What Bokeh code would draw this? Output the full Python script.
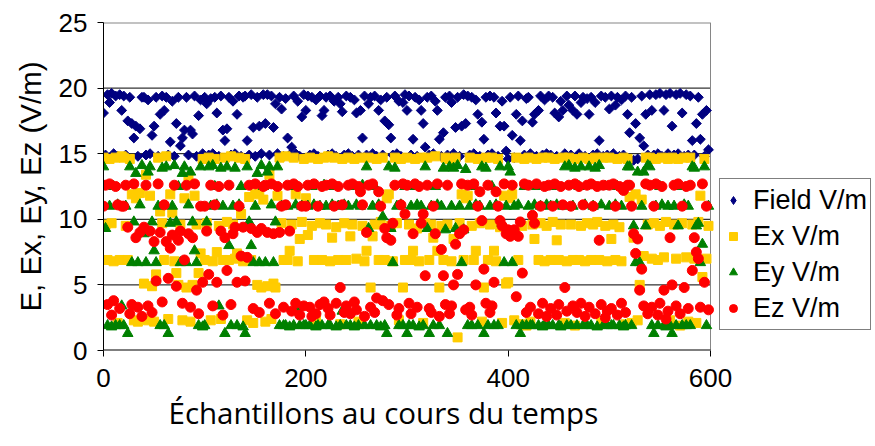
import math
from bokeh.plotting import figure
from bokeh.models import Range1d, Legend, LegendItem, FixedTicker, Title
from bokeh.embed import file_html
from bokeh.resources import INLINE

# Field strength and its three components, one reading every 2 samples (V/m)
field = [
    18.1, 14.9, 19.5, 18.9, 19.6, 15.0, 19.4, 14.8, 19.5, 18.3,
    19.4, 14.9, 17.5, 19.3, 17.3, 16.2, 17.1, 14.8, 16.9, 19.3,
    19.3, 14.9, 19.1, 15.0, 16.4, 17.1, 19.3, 14.8, 18.0, 19.4,
    18.3, 19.3, 14.9, 15.9, 19.0, 14.8, 17.3, 19.3, 15.6, 16.2,
    16.8, 19.3, 14.9, 16.8, 16.5, 19.4, 14.8, 17.9, 19.1, 15.0,
    19.3, 18.8, 14.9, 19.2, 15.0, 19.3, 18.1, 14.8, 19.4, 16.8,
    16.0, 16.9, 19.3, 14.9, 19.0, 15.0, 18.0, 19.4, 14.8, 19.3,
    19.4, 16.0, 14.9, 19.5, 17.0, 14.8, 19.3, 17.1, 15.0, 19.5,
    17.3, 19.5, 14.9, 19.4, 17.0, 18.8, 15.0, 19.3, 18.4, 14.8,
    19.2, 16.2, 14.9, 15.5, 19.4, 15.0, 19.0, 14.8, 17.8, 19.5,
    18.3, 19.4, 14.9, 19.3, 15.0, 19.1, 14.8, 19.4, 17.9, 18.3,
    19.3, 14.9, 19.4, 15.0, 19.0, 14.8, 19.3, 18.8, 18.2, 14.9,
    19.4, 15.0, 19.3, 14.8, 19.1, 18.1, 14.9, 18.3, 16.2, 19.4,
    14.9, 18.8, 19.3, 15.0, 19.4, 14.8, 18.3, 19.1, 14.9, 17.5,
    19.3, 17.2, 16.2, 14.9, 19.4, 15.0, 19.0, 14.8, 18.9, 19.5,
    18.3, 19.4, 14.9, 16.1, 19.3, 14.8, 19.1, 18.3, 17.3, 15.5,
    19.3, 14.9, 19.4, 15.0, 19.0, 18.3, 16.1, 14.8, 16.6, 19.3,
    14.9, 19.4, 18.9, 15.0, 17.0, 19.3, 14.8, 17.1, 19.5, 17.3,
    19.4, 14.9, 19.3, 15.0, 19.1, 18.0, 14.8, 17.4, 16.1, 19.3,
    14.9, 19.4, 15.0, 19.3, 18.1, 14.8, 17.1, 19.0, 17.1, 15.2,
    14.6, 19.3, 16.4, 14.7, 18.0, 19.4, 16.0, 17.5, 14.9, 19.2,
    19.3, 15.0, 17.4, 18.0, 14.8, 18.3, 19.4, 14.9, 19.1, 15.0,
    19.4, 14.9, 19.3, 18.1, 14.8, 17.8, 19.0, 18.3, 15.0, 19.4,
    18.7, 14.9, 18.3, 19.4, 18.0, 15.0, 18.9, 19.3, 14.8, 19.2,
    18.0, 19.3, 14.9, 18.9, 15.0, 16.0, 19.4, 14.8, 19.3, 14.9,
    18.4, 19.4, 15.0, 18.7, 19.3, 14.8, 19.1, 14.9, 19.4, 18.0,
    16.6, 19.3, 14.5, 17.3, 14.6, 16.2, 19.4, 15.6, 18.0, 14.9,
    19.5, 18.3, 14.9, 19.5, 15.0, 19.6, 14.8, 18.3, 19.5, 15.0,
    19.6, 17.1, 14.9, 19.5, 15.0, 19.6, 18.1, 14.8, 19.5, 14.9,
    19.4, 16.0, 14.9, 17.3, 19.3, 16.1, 18.0, 14.8, 18.3, 15.3,
]

ex = [
    14.7, 9.6, 6.9, 14.6, 9.7, 6.8, 14.7, 2.1, 6.9, 14.8,
    14.7, 9.5, 6.9, 14.6, 11.9, 2.3, 11.6, 2.2, 12.0, 2.4,
    5.1, 13.4, 2.3, 11.8, 4.9, 2.2, 5.8, 14.7, 10.6, 9.7,
    6.9, 14.8, 2.4, 11.9, 10.5, 6.8, 5.9, 5.0, 9.6, 2.3,
    11.6, 4.8, 13.2, 2.2, 5.0, 11.8, 9.6, 5.9, 7.4, 14.6,
    6.9, 9.7, 14.7, 2.3, 6.8, 14.6, 7.5, 9.5, 2.4, 6.9,
    14.7, 9.8, 6.9, 14.8, 9.6, 7.0, 7.4, 14.7, 10.4, 6.8,
    14.6, 2.3, 11.7, 6.9, 2.1, 11.9, 5.0, 12.0, 4.8, 11.5,
    2.2, 4.9, 13.4, 2.4, 5.1, 4.8, 11.8, 14.7, 9.7, 6.9,
    14.8, 6.9, 7.6, 9.6, 14.7, 11.9, 6.8, 8.5, 9.8, 14.6,
    11.6, 8.8, 14.7, 9.5, 6.9, 2.3, 14.6, 9.7, 6.9, 14.7,
    9.6, 14.8, 6.8, 8.6, 14.7, 9.4, 6.9, 2.0, 14.6, 9.7,
    6.9, 14.7, 8.7, 9.6, 14.6, 7.0, 2.2, 14.7, 9.5, 6.8,
    7.6, 14.7, 4.8, 8.7, 9.6, 14.6, 6.9, 9.8, 14.7, 6.9,
    11.6, 11.9, 9.5, 6.8, 14.7, 9.7, 2.3, 14.6, 4.8, 6.9,
    14.7, 9.6, 6.9, 7.6, 14.6, 9.3, 6.8, 14.7, 2.1, 9.7,
    14.7, 6.9, 9.6, 8.6, 14.8, 7.6, 4.8, 9.5, 6.9, 14.7,
    9.6, 14.6, 6.8, 8.5, 14.7, 1.0, 9.7, 11.9, 6.9, 11.6,
    11.8, 14.7, 9.5, 6.9, 7.6, 14.6, 9.7, 2.2, 4.8, 14.7,
    6.9, 9.6, 14.7, 7.6, 6.8, 14.6, 9.4, 2.1, 11.8, 5.1,
    5.2, 11.6, 11.9, 2.3, 14.7, 6.9, 2.0, 9.5, 14.6, 1.9,
    14.7, 2.2, 9.6, 8.5, 14.6, 6.9, 9.7, 14.7, 6.8, 9.5,
    14.7, 6.9, 9.8, 14.6, 8.4, 6.9, 9.6, 14.7, 2.1, 6.8,
    14.7, 9.6, 6.9, 1.9, 14.6, 6.9, 9.5, 14.7, 6.8, 9.7,
    14.6, 6.9, 9.6, 14.7, 9.8, 6.9, 2.2, 14.7, 9.5, 6.8,
    14.7, 8.5, 9.6, 6.9, 14.6, 9.4, 6.8, 14.7, 2.0, 14.6,
    11.7, 2.1, 8.6, 11.9, 2.3, 5.0, 11.5, 7.2, 14.7, 9.6,
    14.7, 7.0, 9.7, 14.6, 6.9, 9.5, 14.7, 7.1, 9.8, 14.6,
    2.3, 14.7, 9.6, 7.0, 14.6, 1.9, 9.7, 14.7, 7.1, 2.2,
    14.7, 9.6, 7.0, 2.1, 9.8, 11.8, 5.6, 14.6, 7.0, 9.5,
]

ey = [
    14.0, 9.3, 1.9, 11.0, 1.8, 12.5, 1.9, 11.1, 1.9, 3.4,
    1.9, 11.0, 1.3, 14.0, 6.7, 9.8, 13.5, 6.7, 11.1, 14.1,
    8.9, 6.7, 13.6, 14.0, 9.8, 7.6, 6.7, 11.0, 1.9, 13.9,
    1.9, 14.0, 1.3, 9.7, 11.0, 14.1, 9.8, 12.5, 6.7, 13.5,
    14.0, 6.7, 11.1, 13.6, 9.8, 7.6, 6.7, 1.9, 14.0, 1.8,
    1.9, 9.8, 14.0, 11.0, 14.1, 12.5, 11.1, 3.4, 13.9, 11.0,
    1.3, 14.0, 8.0, 1.9, 11.0, 13.9, 1.9, 11.1, 12.5, 1.8,
    1.3, 14.0, 9.8, 8.0, 6.7, 11.0, 13.5, 6.7, 14.1, 12.5,
    6.7, 13.6, 14.0, 11.1, 6.7, 9.8, 14.0, 1.9, 11.0, 1.9,
    1.9, 11.0, 1.8, 12.5, 1.9, 11.1, 3.3, 1.9, 11.0, 1.9,
    1.9, 11.0, 1.9, 12.5, 11.1, 1.8, 1.9, 11.0, 1.9, 12.6,
    11.0, 1.9, 1.9, 11.1, 12.5, 1.8, 11.0, 1.9, 3.0, 11.1,
    1.9, 11.0, 1.9, 12.5, 1.8, 11.1, 1.9, 11.0, 12.6, 1.9,
    14.0, 9.3, 1.9, 11.0, 12.5, 1.9, 11.1, 1.8, 10.2, 1.9,
    1.3, 14.0, 9.3, 6.7, 13.9, 11.0, 1.9, 11.1, 1.9, 12.5,
    1.3, 1.9, 11.0, 1.9, 12.5, 11.1, 1.8, 11.0, 1.9, 14.0,
    9.3, 1.3, 11.0, 1.9, 12.5, 11.1, 1.9, 11.0, 13.9, 9.2,
    1.3, 14.0, 11.0, 13.9, 9.3, 14.1, 11.0, 6.7, 9.2, 13.8,
    1.9, 11.0, 1.9, 12.5, 11.1, 1.9, 11.0, 14.0, 1.3, 13.9,
    1.9, 11.0, 12.5, 1.9, 11.1, 1.9, 14.0, 9.7, 6.7, 11.0,
    14.0, 13.6, 6.7, 11.0, 1.9, 11.1, 1.3, 1.9, 12.5, 1.9,
    11.0, 1.9, 1.9, 11.1, 12.5, 1.9, 11.0, 1.8, 1.9, 11.1,
    1.9, 11.0, 1.9, 12.5, 11.1, 1.9, 1.8, 11.0, 14.0, 1.9,
    14.1, 1.9, 11.0, 13.9, 1.9, 12.5, 14.0, 1.9, 11.1, 1.9,
    14.0, 1.9, 11.0, 13.9, 1.8, 14.1, 11.1, 1.9, 12.5, 1.9,
    11.0, 1.9, 1.9, 11.1, 12.5, 1.9, 11.0, 1.8, 1.9, 14.0,
    14.0, 1.9, 9.5, 6.7, 13.6, 6.7, 11.0, 13.6, 9.5, 14.1,
    14.0, 1.9, 1.3, 11.0, 1.9, 12.5, 11.1, 1.9, 1.8, 11.0,
    1.9, 1.3, 11.0, 1.9, 9.5, 12.5, 1.9, 11.1, 1.9, 11.0,
    1.9, 14.0, 13.9, 9.5, 9.7, 6.7, 8.1, 14.0, 1.9, 11.0,
]

ez = [
    11.0, 12.6, 3.5, 12.7, 2.7, 3.8, 12.5, 11.1, 3.2, 11.0,
    11.0, 12.6, 9.4, 2.8, 3.5, 12.7, 8.6, 3.3, 9.0, 2.6,
    9.4, 12.6, 3.4, 9.1, 2.9, 8.3, 5.3, 12.7, 9.0, 3.7,
    11.1, 8.3, 5.5, 7.8, 8.8, 12.6, 4.9, 8.4, 9.1, 3.6,
    6.9, 12.6, 8.9, 3.3, 8.6, 12.7, 4.6, 2.8, 11.0, 5.2,
    11.0, 9.1, 5.8, 12.6, 3.4, 11.1, 5.2, 12.5, 9.1, 2.7,
    8.6, 6.1, 12.6, 3.5, 8.9, 9.4, 5.2, 11.0, 7.2, 9.4,
    5.3, 7.1, 12.6, 9.3, 3.2, 12.7, 9.0, 2.9, 9.3, 12.5,
    12.6, 9.0, 3.6, 12.7, 8.9, 2.8, 12.5, 9.0, 11.0, 3.3,
    11.1, 12.6, 9.1, 3.0, 12.7, 3.6, 12.5, 2.7, 11.0, 3.4,
    11.0, 12.6, 3.3, 2.6, 12.7, 2.8, 11.0, 3.5, 12.5, 3.7,
    12.6, 3.2, 2.7, 12.7, 11.0, 3.6, 12.5, 4.8, 11.1, 2.9,
    3.4, 12.6, 2.8, 12.7, 3.7, 3.1, 12.5, 12.1, 11.1, 2.6,
    9.0, 12.6, 3.3, 12.7, 2.9, 4.0, 12.1, 11.0, 3.8, 9.3,
    8.6, 3.5, 8.4, 9.7, 12.6, 2.7, 3.2, 11.1, 12.7, 10.4,
    12.6, 3.6, 2.8, 8.9, 12.7, 3.3, 12.5, 9.7, 10.4, 5.7,
    12.6, 3.2, 2.9, 11.0, 8.9, 12.7, 2.6, 7.7, 5.7, 3.5,
    12.6, 2.8, 3.4, 5.0, 8.1, 5.8, 8.9, 12.7, 9.2, 3.1,
    12.6, 3.3, 2.7, 12.7, 5.0, 11.0, 12.1, 9.9, 6.2, 3.6,
    12.6, 2.9, 3.4, 5.2, 12.1, 11.0, 9.9, 9.5, 12.7, 8.9,
    9.2, 8.7, 12.6, 9.2, 4.1, 8.7, 9.8, 5.9, 12.7, 2.9,
    12.6, 3.3, 10.3, 9.7, 12.7, 2.8, 11.0, 3.6, 12.5, 2.6,
    12.6, 3.2, 11.0, 12.7, 2.7, 3.5, 12.5, 11.1, 4.8, 3.0,
    12.6, 11.0, 3.4, 12.7, 2.9, 12.5, 3.6, 11.1, 2.6, 12.6,
    3.3, 12.7, 11.0, 2.8, 12.5, 8.4, 3.5, 12.6, 2.5, 3.0,
    12.6, 3.2, 12.7, 11.0, 2.7, 12.5, 3.6, 12.2, 2.9, 12.6,
    12.6, 11.0, 8.9, 7.4, 8.5, 4.6, 6.2, 3.4, 12.7, 2.8,
    12.6, 3.3, 11.0, 12.7, 2.7, 3.6, 12.5, 4.6, 2.4, 3.0,
    8.6, 5.0, 12.6, 3.4, 12.7, 2.8, 11.0, 4.8, 12.5, 3.2,
    12.6, 6.1, 8.6, 7.5, 7.0, 3.3, 12.7, 5.2, 11.0, 3.1,
]

series_names = ["Field V/m", "Ex V/m", "Ey V/m", "Ez V/m"]
y_ticks = [0, 5, 10, 15, 20, 25]
grid_levels = [5, 10, 15, 20]
x_ticks = [0, 200, 400, 600]
x_title = "Échantillons au cours du temps"
y_title = "E, Ex, Ey, Ez (V/m)"

FONT = "Liberation Sans"

# Page layout: the plot box spans 103..710 px; the frame is stretched to the
# right edge so the legend beside the box stays inside the drawable area.
W, H = 875, 446
BOX_LEFT, BOX_RIGHT = 103, 710
x_lo, x_hi = x_ticks[0], x_ticks[-1]
x_frame_end = x_lo + (x_hi - x_lo) * (W - BOX_LEFT) / (BOX_RIGHT - BOX_LEFT)
y_lo, y_hi = y_ticks[0], y_ticks[-1]

p = figure(
    width=W, height=H,
    output_backend="svg", toolbar_location=None,
    x_range=Range1d(x_lo, x_frame_end), y_range=Range1d(y_lo, y_hi),
    min_border_left=BOX_LEFT, min_border_right=0,
    min_border_top=22, min_border_bottom=96,
    background_fill_color="white", border_fill_color="white",
)
p.outline_line_color = None
p.xgrid.grid_line_color = None
p.ygrid.grid_line_color = None

# horizontal grid lines and the plot box, limited to the data span
p.segment(x0=[x_lo] * len(grid_levels), y0=grid_levels,
          x1=[x_hi] * len(grid_levels), y1=grid_levels,
          line_color="black", line_width=1)
p.segment(x0=[x_lo, x_hi], y0=[y_hi, y_lo], x1=[x_hi, x_hi], y1=[y_hi, y_hi],
          line_color="#868686", line_width=[2, 1])


def samples(values):
    return list(range(0, 2 * len(values), 2))


NAVY, GOLD, GREEN, RED = "#000080", "#FFCC00", "#008000", "#FF0000"

r_field = p.scatter(samples(field), field, marker="square", angle=math.pi / 4,
                    size=7, fill_color=NAVY, line_color=NAVY)
r_ex = p.scatter(samples(ex), ex, marker="square", size=9,
                 fill_color=GOLD, line_color=GOLD)
r_ey = p.scatter(samples(ey), ey, marker="triangle", size=10.5,
                 fill_color=GREEN, line_color=GREEN)
r_ez = p.scatter(samples(ez), ez, marker="circle", size=10,
                 fill_color=RED, line_color=RED)

# legend key for the field series: a diamond glyph whose single point is NaN
field_key = p.scatter([float("nan")], [float("nan")], marker="diamond",
                      size=10, fill_color=NAVY, line_color=NAVY)

# bottom axis line only across the data span
p.segment(x0=[x_lo], y0=[y_lo], x1=[x_hi], y1=[y_lo],
          line_color="black", line_width=2)

# axes
p.xaxis.ticker = FixedTicker(ticks=x_ticks)
p.yaxis.ticker = FixedTicker(ticks=y_ticks)
for ax in (p.xaxis[0], p.yaxis[0]):
    ax.axis_line_color = "black"
    ax.axis_line_width = 1
    ax.major_tick_line_color = "black"
    ax.major_tick_out = 6
    ax.major_tick_in = 0
    ax.minor_tick_line_color = None
    ax.major_label_text_font = FONT
    ax.major_label_text_font_size = "26px"
    ax.major_label_text_color = "black"
p.xaxis.axis_line_color = None

p.yaxis.major_label_standoff = 10
p.xaxis.major_label_standoff = 12

p.yaxis.axis_label = y_title
p.yaxis.axis_label_text_font = FONT
p.yaxis.axis_label_text_font_size = "29.5px"
p.yaxis.axis_label_text_font_style = "normal"
p.yaxis.axis_label_text_color = "black"
p.yaxis.axis_label_standoff = 9

# x-axis title as a left-aligned title block beneath the axis
p.add_layout(Title(text=x_title, align="left", offset=65,
                   text_font="Open Sans", text_font_size="29.5px",
                   text_font_style="normal", text_color="black",
                   standoff=0), "below")

legend = Legend(
    items=[LegendItem(label=n, renderers=[r])
           for n, r in zip(series_names, [field_key, r_ex, r_ey, r_ez])],
    location=(BOX_RIGHT - BOX_LEFT + 9, 20),
    orientation="vertical",
    border_line_color="black", border_line_width=1,
    background_fill_color="white", background_fill_alpha=1.0,
    padding=3, spacing=0, margin=0,
    label_height=36, glyph_height=36, glyph_width=20,
    label_standoff=10,
    label_text_font=FONT, label_text_font_size="27px",
    label_text_color="black",
)
p.add_layout(legend)

open("out.html", "w").write(file_html(p, INLINE))
